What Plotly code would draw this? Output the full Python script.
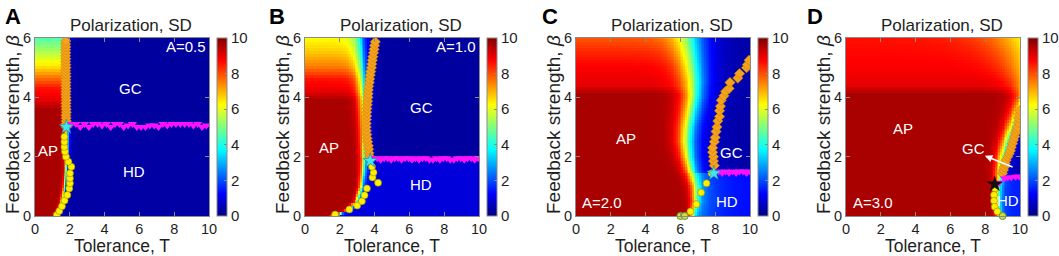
import numpy as np
import plotly.graph_objects as go

# ---------------- data ----------------
T_ticks = [0, 2, 4, 6, 8, 10]
B_ticks = [0, 2, 4, 6]
CB_ticks = [0, 2, 4, 6, 8, 10]
panel_letters = ["A", "B", "C", "D"]

# heat-map description (boundary of the AP region, its width, AP level)
A_bnd_beta = [0, 0.5, 1.0, 1.5, 2.0, 3.0, 4.0, 5.0, 6.0]
A_bnd_T = [1.25, 1.55, 1.7, 1.78, 1.8, 1.82, 1.8, 1.8, 1.8]
A_bnd_w = [0.06, 0.06, 0.06, 0.06, 0.07, 0.08, 0.06, 0.06, 0.06]
A_left_beta = [0, 3.6, 3.9, 4.3, 4.7, 5.0, 5.5, 6.0]
A_left_val = [9.6, 9.6, 9.0, 8.6, 7.5, 6.6, 5.5, 4.5]
A_levels = [0.3, 0.35, 3.05, 1.0, 0.12]  # GC level, HD level, HD/GC beta, halo, halo length

B_bnd_beta = [0, 0.2, 0.5, 1.0, 1.5, 2.0, 3.0, 4.0, 5.0, 6.0]
B_bnd_T = [1.6, 2.4, 2.95, 3.2, 3.3, 3.35, 3.35, 3.3, 3.2, 3.1]
B_bnd_w = [0.08, 0.08, 0.08, 0.08, 0.1, 0.12, 0.15, 0.18, 0.22, 0.25]
B_left_beta = [0, 3.9, 4.2, 4.6, 5.0, 5.5, 6.0]
B_left_val = [9.6, 9.6, 9.0, 8.6, 7.6, 6.8, 6.2]
B_levels = [0.3, 0.9, 1.95, 1.8, 0.2]

C_bnd_beta = [0, 0.5, 1, 1.5, 2, 2.5, 3, 3.5, 4, 4.5, 5, 5.5, 6]
C_bnd_T = [6.65, 6.8, 6.78, 6.55, 6.35, 6.25, 6.3, 6.45, 6.6, 6.65, 6.55, 6.45, 6.35]
C_bnd_w = [0.1, 0.14, 0.18, 0.22, 0.26, 0.3, 0.32, 0.34, 0.36, 0.4, 0.45, 0.5, 0.55]
C_left_beta = [0, 4.1, 4.4, 5.0, 5.5, 6.0]
C_left_val = [9.6, 9.6, 9.0, 8.8, 8.4, 7.9]
C_levels = [0.35, 1.3, 1.47, 2.0, 0.9]

D_bnd_beta = [0, 0.5, 1, 1.5, 2, 2.5, 3, 3.5, 4, 4.5, 5, 5.5, 6]
D_bnd_T = [8.75, 8.7, 8.7, 8.8, 8.95, 9.2, 9.5, 9.85, 10.25, 10.55, 10.8, 11.0, 11.0]
D_bnd_w = [0.1, 0.1, 0.12, 0.16, 0.2, 0.22, 0.24, 0.27, 0.32, 0.5, 0.8, 1.1, 1.4]
D_left_beta = [0, 4.1, 4.4, 5.0, 6.0]
D_left_val = [9.6, 9.6, 9.0, 8.8, 8.6]
D_levels = [0.4, 1.5, 1.35, 1.2, 0.35]

# markers: orange diamonds (GC boundary)
A_dia_T = [1.80, 1.78, 1.80, 1.79, 1.78, 1.80, 1.79, 1.78, 1.78, 1.79, 1.78, 1.77, 1.78, 1.78, 1.77,
           1.78, 1.77, 1.78, 1.77, 1.76, 1.78, 1.77, 1.76, 1.77, 1.76, 1.77, 1.76, 1.77, 1.76, 1.77]
A_dia_beta = [3.0, 3.1, 3.2, 3.3, 3.4, 3.5, 3.6, 3.7, 3.8, 3.9, 4.0, 4.1, 4.2, 4.3, 4.4,
              4.5, 4.6, 4.7, 4.8, 4.9, 5.0, 5.1, 5.2, 5.3, 5.4, 5.5, 5.6, 5.7, 5.8, 5.9]
B_dia_T = [3.72, 3.68, 3.66, 3.64, 3.6, 3.57, 3.55, 3.53, 3.52, 3.52, 3.53, 3.54, 3.55, 3.56, 3.58, 3.6,
           3.62, 3.63, 3.64, 3.66, 3.7, 3.72, 3.75, 3.78, 3.82, 3.84, 3.87, 3.9, 3.94, 3.97, 4.0, 4.04]
B_dia_beta = [2.0, 2.12, 2.25, 2.37, 2.5, 2.62, 2.75, 2.87, 3.0, 3.12, 3.25, 3.37, 3.5, 3.62, 3.75, 3.87,
              4.0, 4.12, 4.25, 4.37, 4.5, 4.62, 4.75, 4.87, 5.0, 5.12, 5.25, 5.37, 5.5, 5.62, 5.75, 5.87]
C_dia_T = [7.95, 7.9, 7.9, 7.85, 7.85, 7.95, 8.0, 8.05, 8.1, 8.15, 8.25, 8.25, 8.3, 8.35, 8.5, 8.6,
           8.8, 8.85, 9.3, 9.4, 9.8, 9.85, 9.95]
C_dia_beta = [1.7, 1.85, 2.0, 2.15, 2.3, 2.5, 2.65, 2.85, 3.0, 3.2, 3.35, 3.55, 3.7, 3.9, 4.05, 4.2,
              4.3, 4.5, 4.65, 4.8, 5.0, 5.1, 5.25]
D_dia_T = [8.99, 9.05, 9.1, 9.15, 9.2, 9.3, 9.38, 9.45, 9.5, 9.57, 9.63, 9.7, 9.75, 9.8, 9.85, 9.9,
           9.92, 9.96, 10.0]
D_dia_beta = [1.44, 1.55, 1.65, 1.77, 1.88, 2.0, 2.1, 2.2, 2.32, 2.44, 2.56, 2.68, 2.8, 2.9, 3.0, 3.15,
              3.3, 3.42, 3.55]

# yellow circles (AP / HD boundary)
A_cir_T = [1.25, 1.4, 1.55, 1.7, 1.86, 1.97, 2.01, 2.01, 2.01, 2.09, 1.92, 1.78, 1.72, 1.69, 1.69, 1.69]
A_cir_beta = [0.03, 0.17, 0.33, 0.52, 0.71, 0.93, 1.1, 1.27, 1.44, 1.66, 1.83, 2.0, 2.17, 2.33, 2.5, 2.67]
B_cir_T = [1.73, 2.55, 3.0, 3.27, 3.42, 3.56, 4.2, 3.88, 3.94, 3.85]
B_cir_beta = [0.05, 0.22, 0.35, 0.5, 0.7, 0.93, 1.12, 1.3, 1.47, 1.66]
C_cir_T = [6.58, 6.92, 7.19, 7.5, 7.79]
C_cir_beta = [0.15, 0.4, 0.79, 1.1, 1.44]
D_cir_T = [8.57, 8.51, 8.51, 8.55, 8.7]
D_cir_beta = [0.93, 0.71, 0.51, 0.31, 0.15]

# open circles on the T axis
C_open_T = [6.0, 6.25]
C_open_beta = [0.0, 0.0]
D_open_T = [9.0]
D_open_beta = [0.0]

# magenta triangles (GC / HD boundary)
A_tri_T = [2.1, 2.35, 2.6, 2.85, 3.1, 3.35, 3.6, 3.85, 4.1, 4.35, 4.6, 4.85, 5.1, 5.35, 5.6, 5.85,
           6.1, 6.35, 6.6, 6.85, 7.1, 7.35, 7.6, 7.85, 8.1, 8.35, 8.6, 8.85, 9.1, 9.35, 9.6, 9.85]
A_tri_beta = [3.1, 3.1, 3.0, 3.1, 3.0, 3.1, 3.1, 3.05, 3.1, 3.0, 3.1, 3.1, 3.0, 3.05, 3.1, 3.0,
              3.0, 3.0, 3.05, 3.05, 3.0, 3.1, 3.05, 3.1, 3.1, 3.1, 3.1, 3.1, 3.05, 3.1, 3.0, 3.05]
B_tri_T = [3.95, 4.15, 4.35, 4.55, 4.75, 4.95, 5.15, 5.35, 5.55, 5.75, 5.95, 6.15, 6.35, 6.55, 6.75, 6.95,
           7.15, 7.35, 7.55, 7.75, 7.95, 8.15, 8.35, 8.55, 8.75, 8.95, 9.15, 9.35, 9.55, 9.75, 9.95]
B_tri_beta = [1.95, 1.95, 1.9, 1.95, 1.95, 1.9, 1.95, 1.95, 1.9, 1.95, 1.95, 1.9, 1.95, 1.9, 1.95, 1.95,
              1.9, 1.9, 1.95, 1.9, 1.95, 1.95, 1.9, 1.9, 1.95, 1.95, 1.9, 1.95, 1.95, 1.9, 1.95]
C_tri_T = [8.2, 8.4, 8.6, 8.8, 9.0, 9.2, 9.4, 9.6, 9.8, 10.0]
C_tri_beta = [1.5, 1.45, 1.5, 1.45, 1.5, 1.45, 1.5, 1.5, 1.45, 1.5]
D_tri_T = [8.8, 9.1, 9.3, 9.5, 9.75, 9.95]
D_tri_beta = [1.12, 1.27, 1.3, 1.3, 1.32, 1.33]

# triple points (stars)
star_T = [1.8, 3.75, 7.92, 8.55]
star_beta = [3.0, 1.86, 1.44, 1.07]
star_colors = ["#3fe6f0", "#3fe6f0", "#3fe6f0", "#111111"]

# region labels (text, T, beta) per panel
A_labels = [("GC", 5.5, 4.3), ("HD", 5.7, 1.5), ("AP", 0.75, 2.2), ("A=0.5", 8.7, 5.7)]
B_labels = [("GC", 6.7, 3.65), ("HD", 6.65, 1.05), ("AP", 1.4, 2.3), ("A=1.0", 8.7, 5.7)]
C_labels = [("GC", 8.95, 2.15), ("HD", 8.7, 0.5), ("AP", 2.9, 2.6), ("A=2.0", 1.5, 0.45)]
D_labels = [("GC", 7.3, 2.28), ("HD", 9.3, 0.53), ("AP", 3.3, 2.95), ("A=3.0", 1.55, 0.47)]
D_arrow = [9.66, 1.63, 7.98, 2.03]  # tail T, tail beta, head T, head beta

# ---------------- layout constants (pixels) ----------------
W, H = 1059, 256
plot_left = [35, 305, 576, 846]
plot_w = 174
plot_top, plot_bot = 38, 216
cb_gap = 182
cb_w = 10

jet = [[0.0, "rgb(0,0,128)"], [0.125, "rgb(0,0,255)"], [0.375, "rgb(0,255,255)"],
       [0.625, "rgb(255,255,0)"], [0.875, "rgb(255,0,0)"], [1.0, "rgb(128,0,0)"]]

T_grid = np.linspace(0, 10, 101)
B_grid = np.linspace(0, 6, 61)


def field(bb, bT, bw, lb, lv, lev):
    gc, hd, hd_beta, halo, halo_len = lev
    Tg, Bg = np.meshgrid(T_grid, B_grid)
    Tb = np.interp(Bg, bb, bT)
    Wd = np.interp(Bg, bb, bw)
    left = np.interp(Bg, lb, lv)
    s = 1.0 / (1.0 + np.exp(-(Tb - Tg) / Wd))
    base = np.where(Bg < hd_beta, hd, gc)
    d = np.clip(Tg - Tb, 0, None)
    right = base + halo * np.exp(-d / halo_len)
    return np.clip(right + (left - right) * s, 0, 10)


fields = [
    field(A_bnd_beta, A_bnd_T, A_bnd_w, A_left_beta, A_left_val, A_levels),
    field(B_bnd_beta, B_bnd_T, B_bnd_w, B_left_beta, B_left_val, B_levels),
    field(C_bnd_beta, C_bnd_T, C_bnd_w, C_left_beta, C_left_val, C_levels),
    field(D_bnd_beta, D_bnd_T, D_bnd_w, D_left_beta, D_left_val, D_levels),
]
dias = [(A_dia_T, A_dia_beta), (B_dia_T, B_dia_beta), (C_dia_T, C_dia_beta), (D_dia_T, D_dia_beta)]
cirs = [(A_cir_T, A_cir_beta), (B_cir_T, B_cir_beta), (C_cir_T, C_cir_beta), (D_cir_T, D_cir_beta)]
tris = [(A_tri_T, A_tri_beta), (B_tri_T, B_tri_beta), (C_tri_T, C_tri_beta), (D_tri_T, D_tri_beta)]
opens = [([], []), ([], []), (C_open_T, C_open_beta), (D_open_T, D_open_beta)]
labels = [A_labels, B_labels, C_labels, D_labels]

fig = go.Figure()
annotations = []
font = "Liberation Sans, Arial, sans-serif"
axis_col = "#8a8a8a"
text_col = "#1e1e1e"

for i in range(4):
    n = "" if i == 0 else str(i + 1)
    xa, ya = "x" + n, "y" + n
    L = plot_left[i]
    fig.add_trace(go.Heatmap(
        x=T_grid, y=B_grid, z=fields[i], zmin=0, zmax=10, colorscale=jet,
        xaxis=xa, yaxis=ya, hoverinfo="skip",
        colorbar=dict(x=(L + cb_gap) / W, xanchor="left", y=1 - (plot_top + plot_bot) / 2 / H,
                      yanchor="middle", len=plot_bot - plot_top, lenmode="pixels",
                      thickness=cb_w, thicknessmode="pixels", xpad=0, ypad=0,
                      outlinecolor=axis_col, outlinewidth=1, tickvals=CB_ticks,
                      ticks="inside", ticklen=3, tickcolor=axis_col,
                      tickfont=dict(size=15, color=text_col, family=font)),
    ))
    fig.add_trace(go.Scatter(x=dias[i][0], y=dias[i][1], mode="markers", xaxis=xa, yaxis=ya,
                             marker=dict(symbol="diamond", size=8, color="#f4a21c",
                                         line=dict(width=0.5, color="#c77d00")),
                             showlegend=False, hoverinfo="skip"))
    fig.add_trace(go.Scatter(x=tris[i][0], y=tris[i][1], mode="markers", xaxis=xa, yaxis=ya,
                             marker=dict(symbol="triangle-down", size=8, color="#ff10ff",
                                         line=dict(width=0)),
                             showlegend=False, hoverinfo="skip"))
    fig.add_trace(go.Scatter(x=cirs[i][0], y=cirs[i][1], mode="markers", xaxis=xa, yaxis=ya,
                             marker=dict(symbol="circle", size=7, color="#ffee00",
                                         line=dict(width=0.6, color="#8f8f00")),
                             showlegend=False, hoverinfo="skip"))
    if opens[i][0]:
        fig.add_trace(go.Scatter(x=opens[i][0], y=opens[i][1], mode="markers", xaxis=xa, yaxis=ya,
                                 cliponaxis=False,
                                 marker=dict(symbol="circle", size=7, color="#d8d840",
                                             line=dict(width=1, color="#5a9a30")),
                                 showlegend=False, hoverinfo="skip"))
    fig.add_trace(go.Scatter(x=[star_T[i]], y=[star_beta[i]], mode="markers", xaxis=xa, yaxis=ya,
                             marker=dict(symbol="star", size=11, color=star_colors[i],
                                         line=dict(width=0.5, color="#207080" if i < 3 else "#000")),
                             showlegend=False, hoverinfo="skip"))

    dom_x = [L / W, (L + plot_w) / W]
    dom_y = [1 - plot_bot / H, 1 - plot_top / H]
    common = dict(showgrid=False, zeroline=False, showline=True, mirror="ticks", linecolor=axis_col,
                  linewidth=1, ticks="inside", ticklen=4, tickcolor=axis_col, automargin=False,
                  tickfont=dict(size=14.5, color=text_col, family=font))
    fig.layout["xaxis" + n] = dict(domain=dom_x, range=[0, 10], tickvals=T_ticks, anchor=ya, **common)
    fig.layout["yaxis" + n] = dict(domain=dom_y, range=[0, 6], tickvals=B_ticks, anchor=xa, **common)

    # titles and axis labels
    annotations.append(dict(text="Polarization, SD", x=(L + cb_gap + cb_w + L) / 2 / W, y=1 - 25 / H,
                            xref="paper", yref="paper", showarrow=False, xanchor="center", yanchor="middle",
                            font=dict(size=17, color=text_col, family=font)))
    annotations.append(dict(text="Tolerance, T", x=(L + plot_w / 2) / W, y=-2 / H,
                            xref="paper", yref="paper", showarrow=False, xanchor="center", yanchor="bottom",
                            font=dict(size=17.5, color=text_col, family=font)))
    annotations.append(dict(text="Feedback strength, <i>β</i>", x=(L - 23) / W, y=1 - 125 / H,
                            xref="paper", yref="paper", showarrow=False, textangle=-90,
                            xanchor="center", yanchor="middle",
                            font=dict(size=19, color=text_col, family=font)))
    letter_x = [3, 267, 540, 805][i]
    annotations.append(dict(text="<b>" + panel_letters[i] + "</b>", x=letter_x / W, y=1 - 2 / H,
                            xref="paper", yref="paper", showarrow=False, xanchor="left", yanchor="top",
                            font=dict(size=22, color="#000", family=font)))
    for (txt, tx, ty) in labels[i]:
        annotations.append(dict(text=txt, x=tx, y=ty, xref=xa, yref=ya, showarrow=False,
                                xanchor="center", yanchor="middle",
                                font=dict(size=15, color="white", family=font)))

annotations.append(dict(x=D_arrow[2], y=D_arrow[3], ax=D_arrow[0], ay=D_arrow[1], xref="x4", yref="y4",
                        axref="x4", ayref="y4", showarrow=True, arrowhead=2, arrowsize=1, arrowwidth=1.5,
                        arrowcolor="white", text=""))

fig.update_layout(width=W, height=H, margin=dict(l=0, r=0, t=0, b=0, autoexpand=False),
                  paper_bgcolor="white", plot_bgcolor="white", annotations=annotations, showlegend=False)

fig.write_html("out.html", config={"displayModeBar": False},
               post_script="document.body.style.margin='0px';document.body.style.padding='0px';")
